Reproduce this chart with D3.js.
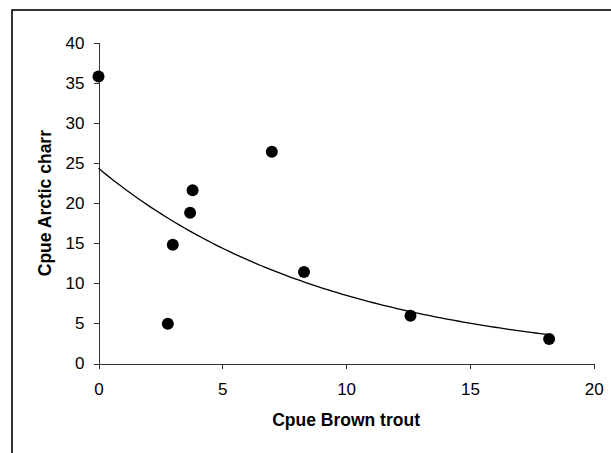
<!DOCTYPE html>
<html>
<head>
<meta charset="utf-8">
<script src="https://cdn.jsdelivr.net/npm/d3@7"></script>
<style>
  body { margin: 0; background: #fff; }
  svg { display: block; }
  text { font-family: "Liberation Sans", Arial, sans-serif; fill: #000; }
  .axis path, .axis line { stroke: #333; shape-rendering: crispEdges; }
</style>
</head>
<body>
<div id="chart"></div>
<script>
// Cpue of brown trout (x) vs Arctic charr (y)
var brownTrout = [0, 2.8, 3.0, 3.7, 3.8, 7.0, 8.3, 12.6, 18.2];
var arcticCharr = [35.8, 4.95, 14.8, 18.8, 21.6, 26.4, 11.4, 5.95, 3.05];
var xTicks = [0, 5, 10, 15, 20];
var yTicks = [0, 5, 10, 15, 20, 25, 30, 35, 40];

var width = 611, height = 453;
var margin = {left: 98.5, top: 42.7, right: 611 - 593.7, bottom: 453 - 363.5};

var svg = d3.select('#chart')
  .append('svg')
  .attr('width', width)
  .attr('height', height);

// outer frame (runs off the right and bottom of the picture)
svg.append('rect')
  .attr('x', 12)
  .attr('y', 10)
  .attr('width', 640)
  .attr('height', 480)
  .attr('fill', 'none')
  .attr('stroke', '#000')
  .attr('stroke-width', 1.6);

var x = d3.scaleLinear().domain([0, 20]).range([margin.left, width - margin.right]);
var y = d3.scaleLinear().domain([0, 40]).range([height - margin.bottom, margin.top]);

svg.append('g')
  .attr('class', 'axis')
  .attr('transform', 'translate(0,' + (height - margin.bottom) + ')')
  .call(d3.axisBottom(x).tickValues(xTicks).tickSize(5).tickPadding(14))
  .call(function(g) { g.selectAll('text').style('font-size', '17px'); });

svg.append('g')
  .attr('class', 'axis')
  .attr('transform', 'translate(' + margin.left + ',0)')
  .call(d3.axisLeft(y).tickValues(yTicks).tickSize(5).tickPadding(9))
  .call(function(g) { g.selectAll('text').style('font-size', '17px'); });

// exponential trendline fitted on ln(y), like a spreadsheet trendline
var n = brownTrout.length;
var lny = arcticCharr.map(function(v) { return Math.log(v); });
var mx = d3.mean(brownTrout), my = d3.mean(lny);
var sxy = 0, sxx = 0;
for (var i = 0; i < n; i++) {
  sxy += (brownTrout[i] - mx) * (lny[i] - my);
  sxx += (brownTrout[i] - mx) * (brownTrout[i] - mx);
}
var b = sxy / sxx, a = Math.exp(my - b * mx);
var xmin = d3.min(brownTrout), xmax = d3.max(brownTrout);
var trend = d3.range(0, 101).map(function(k) {
  var xv = xmin + (xmax - xmin) * k / 100;
  return [xv, a * Math.exp(b * xv)];
});

svg.append('path')
  .datum(trend)
  .attr('fill', 'none')
  .attr('stroke', '#000')
  .attr('stroke-width', 1.3)
  .attr('d', d3.line()
    .x(function(d) { return x(d[0]); })
    .y(function(d) { return y(d[1]); }));

svg.selectAll('circle.dot')
  .data(brownTrout)
  .enter().append('circle')
  .attr('class', 'dot')
  .attr('cx', function(d) { return x(d); })
  .attr('cy', function(d, i) { return y(arcticCharr[i]); })
  .attr('r', 6)
  .attr('fill', '#000');

// axis titles
svg.append('text')
  .attr('x', (x(0) + x(20)) / 2)
  .attr('y', 426)
  .attr('text-anchor', 'middle')
  .style('font-size', '17.5px')
  .style('font-weight', 'bold')
  .text('Cpue Brown trout');

svg.append('text')
  .attr('transform', 'translate(45,' + ((y(0) + y(40)) / 2) + ') rotate(-90)')
  .attr('dy', '0.35em')
  .attr('text-anchor', 'middle')
  .style('font-size', '17.5px')
  .style('font-weight', 'bold')
  .text('Cpue Arctic charr');
</script>
</body>
</html>
